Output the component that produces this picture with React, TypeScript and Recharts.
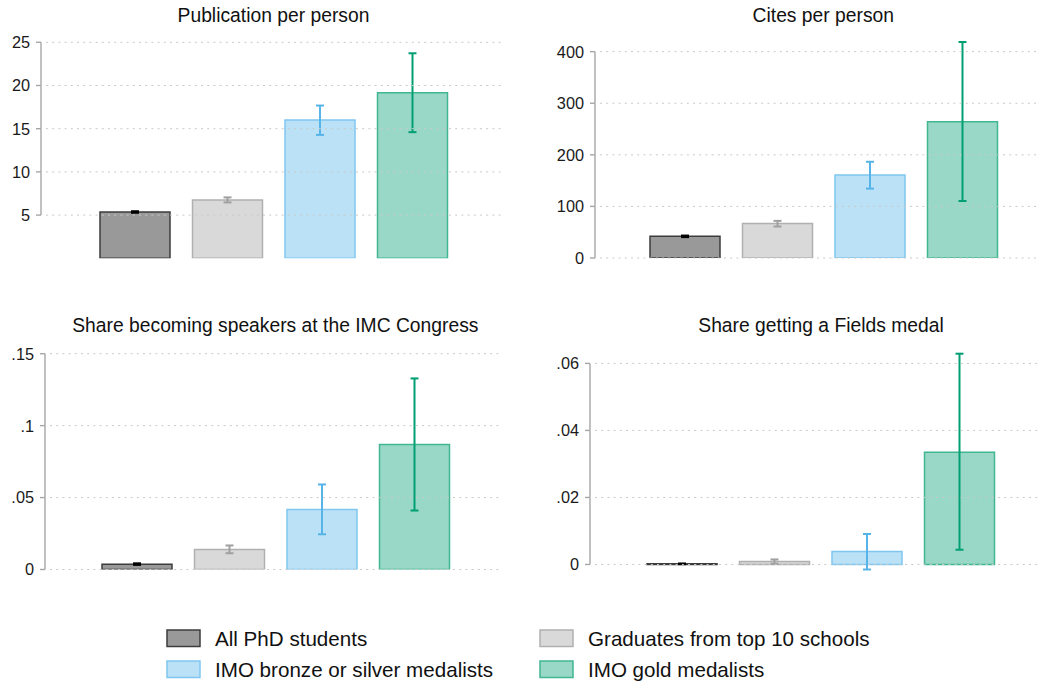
import React from 'react';
import { BarChart, Bar, XAxis, YAxis, ErrorBar } from 'recharts';

// ---- data ----
const groupNames = [
  'All PhD students',
  'Graduates from top 10 schools',
  'IMO bronze or silver medalists',
  'IMO gold medalists',
];
const groupKeys = ['all', 'top10', 'bronzeSilver', 'gold'];

const pubTitle = 'Publication per person';
const pubMean = [5.36, 6.75, 16.0, 19.15];
const pubLow = [5.27, 6.47, 14.28, 14.6];
const pubHigh = [5.45, 7.05, 17.68, 23.73];
const pubTicks = [5, 10, 15, 20, 25];

const citeTitle = 'Cites per person';
const citeMean = [42, 67, 161, 264];
const citeLow = [40.5, 61, 134.5, 110.5];
const citeHigh = [43.5, 72, 186.5, 418.7];
const citeTicks = [0, 100, 200, 300, 400];

const imcTitle = 'Share becoming speakers at the IMC Congress';
const imcMean = [0.0037, 0.0139, 0.0417, 0.0869];
const imcLow = [0.0032, 0.0113, 0.0245, 0.041];
const imcHigh = [0.0043, 0.0167, 0.0591, 0.1328];
const imcTicks = [0, 0.05, 0.1, 0.15];

const fieldsTitle = 'Share getting a Fields medal';
const fieldsMean = [0.0002, 0.0009, 0.0039, 0.0335];
const fieldsLow = [0.0001, 0.0002, -0.0015, 0.0044];
const fieldsHigh = [0.0003, 0.0015, 0.0091, 0.0629];
const fieldsTicks = [0, 0.02, 0.04, 0.06];

// ---- styles ----
const groupColors = ['#000000', '#a0a0a0', '#56b4e9', '#009e73'];
const groupFills = ['#999999', '#d9d9d9', '#bbe1f6', '#99d8c7'];
const groupOutlines = ['#3c3c3c', '#b0b0b0', '#80c6ef', '#40b691'];
const FONT = '"Liberation Sans", Arial, Helvetica, sans-serif';
const AXIS_COLOR = '#a6a6a6';

const fmt = (v: number) => String(v).replace(/^0\./, '.').replace(/^-0\./, '-.');

type Box = { left: number; top: number; width: number; height: number; yw: number; mr: number; mt: number; mb: number };

const panels = [
  { title: pubTitle, means: pubMean, lows: pubLow, highs: pubHigh, ticks: pubTicks,
    box: { left: 0, top: 0, width: 520, height: 280, yw: 45, mr: 18, mt: 42.3, mb: 21.7 } },
  { title: citeTitle, means: citeMean, lows: citeLow, highs: citeHigh, ticks: citeTicks,
    box: { left: 520, top: 0, width: 540, height: 280, yw: 79, mr: 12.4, mt: 42, mb: 22 } },
  { title: imcTitle, means: imcMean, lows: imcLow, highs: imcHigh, ticks: imcTicks,
    box: { left: 0, top: 310, width: 520, height: 280, yw: 49, mr: 18.3, mt: 43.7, mb: 20.5 } },
  { title: fieldsTitle, means: fieldsMean, lows: fieldsLow, highs: fieldsHigh, ticks: fieldsTicks,
    box: { left: 520, top: 310, width: 540, height: 280, yw: 74, mr: 12, mt: 43.7, mb: 20.5 } },
];

function Panel({ means, lows, highs, ticks, box }: { means: number[]; lows: number[]; highs: number[]; ticks: number[]; box: Box }) {
  const row: any = { name: 'group' };
  groupKeys.forEach((k, i) => {
    row[k] = means[i];
    row[k + 'Err'] = [means[i] - lows[i], highs[i] - means[i]];
  });
  const dMin = Math.min(0, ...lows);
  const dMax = Math.max(ticks[ticks.length - 1], ...highs);
  const innerH = box.height - box.mt - box.mb;
  const innerW = box.width - box.yw - box.mr;
  const stepPx = ((ticks[1] - ticks[0]) * innerH) / (dMax - dMin);

  const renderTick = (props: any) => {
    const { x, y, payload } = props;
    const idx = ticks.findIndex((t) => Math.abs(t - payload.value) < 1e-9);
    const ax = x - 4;
    return (
      <g>
        <line x1={x + 1} x2={x + innerW} y1={y} y2={y} stroke="#c9c9c9" strokeWidth={1} strokeDasharray="2 4.2" />
        {idx < ticks.length - 1 && (
          <line x1={ax} x2={ax} y1={y} y2={y - stepPx} stroke={AXIS_COLOR} strokeWidth={1.4} />
        )}
        <line x1={ax - 5} x2={ax} y1={y} y2={y} stroke={AXIS_COLOR} strokeWidth={1.4} />
        <text x={ax - 11} y={y} dy="0.36em" textAnchor="end" fill="#1a1a1a" fontSize={16.3} fontFamily={FONT}>
          {fmt(payload.value)}
        </text>
      </g>
    );
  };

  return (
    <div style={{ position: 'absolute', left: box.left, top: box.top }}>
      <BarChart
        width={box.width}
        height={box.height}
        data={[row]}
        margin={{ top: box.mt, right: box.mr, bottom: box.mb, left: 0 }}
        barSize={70}
        barGap={22.5}
      >
        <XAxis dataKey="name" hide />
        <YAxis
          type="number"
          width={box.yw}
          domain={[dMin, dMax]}
          ticks={ticks}
          interval={0}
          allowDataOverflow
          axisLine={false}
          tickLine={false}
          tickSize={0}
          tickMargin={0}
          tick={renderTick}
        />
        {groupKeys.map((k, i) => (
          <Bar
            key={k}
            dataKey={k}
            isAnimationActive={false}
            fill={groupFills[i]}
            stroke={groupOutlines[i]}
            strokeWidth={1.5}
          >
            <ErrorBar dataKey={k + 'Err'} width={4} stroke={groupColors[i]} strokeWidth={2} direction="y" />
          </Bar>
        ))}
      </BarChart>
    </div>
  );
}

export default function App() {
  const legendPos = [
    { x: 167, y: 630 },
    { x: 540, y: 630 },
    { x: 167, y: 661 },
    { x: 540, y: 661 },
  ];
  return (
    <div style={{ position: 'absolute', left: 0, top: 0, width: 1040, height: 683, overflow: 'hidden', background: '#fff' }}>
      {panels.map((p, i) => (
        <Panel key={i} means={p.means} lows={p.lows} highs={p.highs} ticks={p.ticks} box={p.box} />
      ))}
      <svg width={1040} height={683} style={{ position: 'absolute', left: 0, top: 0, pointerEvents: 'none' }}>
        {panels.map((p, i) => {
          const b = p.box;
          const plotLeft = b.left + b.yw;
          const plotRight = b.left + b.width - b.mr;
          return (
            <text
              key={i}
              x={(plotLeft + plotRight) / 2}
              y={b.top + 21.5}
              textAnchor="middle"
              fontSize={19.3}
              fontFamily={FONT}
              fill="#111"
            >
              {p.title}
            </text>
          );
        })}
        {groupNames.map((n, i) => (
          <g key={n}>
            <rect
              x={legendPos[i].x}
              y={legendPos[i].y}
              width={33}
              height={16.5}
              fill={groupFills[i]}
              stroke={groupOutlines[i]}
              strokeWidth={1.5}
            />
            <text x={legendPos[i].x + 48} y={legendPos[i].y + 15.5} fontSize={20.6} fontFamily={FONT} fill="#111">
              {n}
            </text>
          </g>
        ))}
      </svg>
    </div>
  );
}
